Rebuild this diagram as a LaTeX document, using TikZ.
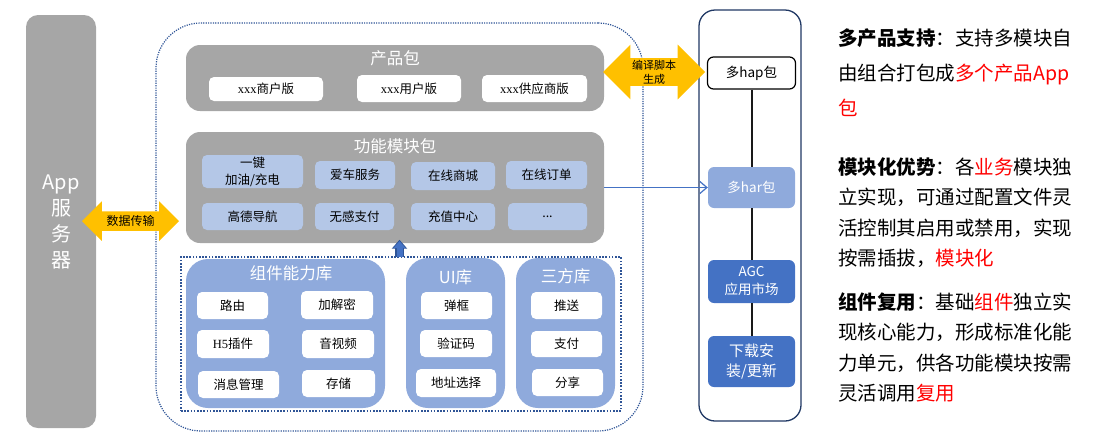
\documentclass[tikz,border=0pt]{standalone}
\usepackage{fontspec}
\setmainfont{Noto Sans CJK SC}
\newfontfamily\xfont{Liberation Serif}
\usetikzlibrary{shapes.arrows,arrows.meta}
\definecolor{pkgGray}{HTML}{A6A6A6}
\definecolor{modBlue}{HTML}{B4C7E7}
\definecolor{libBlue}{HTML}{8FAADC}
\definecolor{darkBlue}{HTML}{4472C4}
\definecolor{navy}{HTML}{203864}
\definecolor{dotBlue}{HTML}{2F5597}
\definecolor{arrowYellow}{HTML}{FFC000}
\tikzset{
  wh/.style 2 args={minimum width=#1pt, minimum height=#2pt},
  pkg/.style={fill=pkgGray, rounded corners=14pt},
  title/.style={text=white, inner sep=0pt, font=\fontsize{16.5}{18}\selectfont},
  item/.style={rounded corners=5pt, inner sep=0pt, align=center, font=\fontsize{12.5}{17}\selectfont},
  whitebox/.style={item, fill=white},
  modbox/.style={item, fill=modBlue},
  lib/.style={fill=libBlue, rounded corners=22pt},
  colbox/.style={rounded corners=6pt, inner sep=0pt, align=center, text=white, font=\fontsize{13.5}{18}\selectfont},
  yarrow/.style={double arrow, fill=arrowYellow, double arrow head extend=#1, inner xsep=0pt, align=center},
  link/.style={line width=2pt, black!90},
  note/.style={anchor=north west, inner sep=0pt, align=left, font=\fontsize{19.5}{30.5}\selectfont}
}
\begin{document}
\begin{tikzpicture}[x=1pt, y=-1pt]
  \useasboundingbox (0,0) rectangle (1095,440);
  \node[pkg, rounded corners=12pt, wh={70}{413}, text=white, align=center, font=\fontsize{20}{26}\selectfont] (server) at (61,221.5) {App\\服\\务\\器};
  \node[draw=dotBlue, line width=1.2pt, dash pattern=on 1.2pt off 1.2pt, rounded corners=45pt, wh={487}{408}] (platform) at (399.5,227) {};

  \node[pkg, wh={418}{66}] (prod) at (395,78) {};
  \node[title] (prodT) at (395,58) {产品包};
  \node[whitebox, wh={114}{24}] (p1) at (266,89) {{\xfont xxx}商户版};
  \node[whitebox, wh={104}{27}] (p2) at (409,88.5) {{\xfont xxx}用户版};
  \node[whitebox, wh={105}{27}] (p3) at (534.5,88.5) {{\xfont xxx}供应商版};

  \node[pkg, wh={418}{111}] (func) at (395,187.5) {};
  \node[title] (funcT) at (395,146) {功能模块包};
  \node[modbox, wh={101}{33}] (f1) at (252.5,171.5) {一键\\加油/充电};
  \node[modbox, wh={80}{28}] (f2) at (355,175) {爱车服务};
  \node[modbox, wh={84}{28}] (f3) at (453,176) {在线商城};
  \node[modbox, wh={81}{28}] (f4) at (546.5,175) {在线订单};
  \node[modbox, wh={101}{27}] (f5) at (252.5,216.5) {高德导航};
  \node[modbox, wh={79}{27}] (f6) at (354.5,216.5) {无感支付};
  \node[modbox, wh={84}{27}] (f7) at (453,216.5) {充值中心};
  \node[modbox, wh={79}{27}] (f8) at (547.5,216.5) {...};

  \node[draw=dotBlue, line width=1.6pt, dash pattern=on 1.6pt off 1.6pt, wh={440}{154}] (libs) at (401,334) {};
  \node[lib, wh={199}{149}] (comp) at (285.5,333.5) {};
  \node[title] (compT) at (291,273) {组件能力库};
  \node[whitebox, wh={71}{27}] (c1) at (232.5,305.5) {路由};
  \node[whitebox, wh={72}{28}] (c2) at (337,305) {加解密};
  \node[whitebox, wh={72}{28}] (c3) at (233,344) {{\xfont H5}插件};
  \node[whitebox, wh={72}{28}] (c4) at (338,344) {音视频};
  \node[whitebox, wh={81}{27}] (c5) at (238.5,384.5) {消息管理};
  \node[whitebox, wh={73}{27}] (c6) at (338.5,383.5) {存储};
  \node[lib, wh={99}{150}] (ui) at (455.5,333) {};
  \node[title] (uiT) at (455.5,277) {UI库};
  \node[whitebox, wh={71}{27}] (u1) at (456.5,305.5) {弹框};
  \node[whitebox, wh={72}{27}] (u2) at (456,343.5) {验证码};
  \node[whitebox, wh={80}{28}] (u3) at (456,383) {地址选择};
  \node[lib, wh={99}{150}] (third) at (565.5,333) {};
  \node[title] (thirdT) at (565.5,276) {三方库};
  \node[whitebox, wh={71}{27}] (t1) at (566.5,305.5) {推送};
  \node[whitebox, wh={71}{26}] (t2) at (566.5,344) {支付};
  \node[whitebox, wh={71}{27}] (t3) at (567.5,382.5) {分享};
  \draw[dotBlue, line width=8.5pt, -{Triangle[width=15pt,length=9pt]}] ([xshift=-1.5pt, yshift=-1pt]libs.north) -- ([xshift=-1.5pt, yshift=3.5pt]libs.north |- func.south);
  \draw[darkBlue, line width=6pt, -{Triangle[width=12pt,length=7pt]}] ([xshift=-1.5pt, yshift=-0.5pt]libs.north) -- ([xshift=-1.5pt, yshift=2pt]libs.north |- func.south);

  \node[draw=navy, line width=1.3pt, rounded corners=16pt, wh={102}{411}] (column) at (750,215.5) {};
  \node[colbox, fill=white, draw=black, line width=1.2pt, text=black, wh={88}{32}] (hap) at (751.5,73) {多hap包};
  \node[colbox, fill=libBlue, wh={87}{41}] (har) at (751.5,187.5) {多har包};
  \node[colbox, fill=darkBlue, wh={87}{43}] (agc) at (751.5,281.5) {AGC\\应用市场};
  \node[colbox, fill=darkBlue, wh={87}{51}, font=\fontsize{15}{20}\selectfont] (dl) at (751.5,361.5) {下载安\\装/更新};
  \draw[link] (hap) -- (har);
  \draw[link] (har) -- (agc);
  \draw[link] (agc) -- (dl);
  \draw[darkBlue, line width=1.2pt, -{Straight Barb[length=7pt,width=12pt]}] (func.east) -- (har.west);

  \node[yarrow=10pt, minimum height=97pt, inner ysep=4pt, font=\fontsize{12}{14}\selectfont] (sync) at (130.5,221) {数据传输};
  \node[yarrow=13.5pt, minimum height=102pt, inner ysep=1.5pt, font=\fontsize{11}{14}\selectfont] (build) at (654,72) {编译脚本\\生成};

  \node[note, font=\fontsize{19.5}{35}\selectfont] (noteA) at (838,29) {\textbf{多产品支持}：支持多模块自\\由组合打包成\textcolor{red}{多个产品App}\\\textcolor{red}{包}};
  \node[note] (noteB) at (838,157.5) {\textbf{模块化优势}：各\textcolor{red}{业务}模块独\\立实现，可通过配置文件灵\\活控制其启用或禁用，实现\\按需插拔，\textcolor{red}{模块化}};
  \node[note] (noteC) at (838,292.5) {\textbf{组件复用}：基础\textcolor{red}{组件}独立实\\现核心能力，形成标准化能\\力单元，供各功能模块按需\\灵活调用\textcolor{red}{复用}};
\end{tikzpicture}
\end{document}
